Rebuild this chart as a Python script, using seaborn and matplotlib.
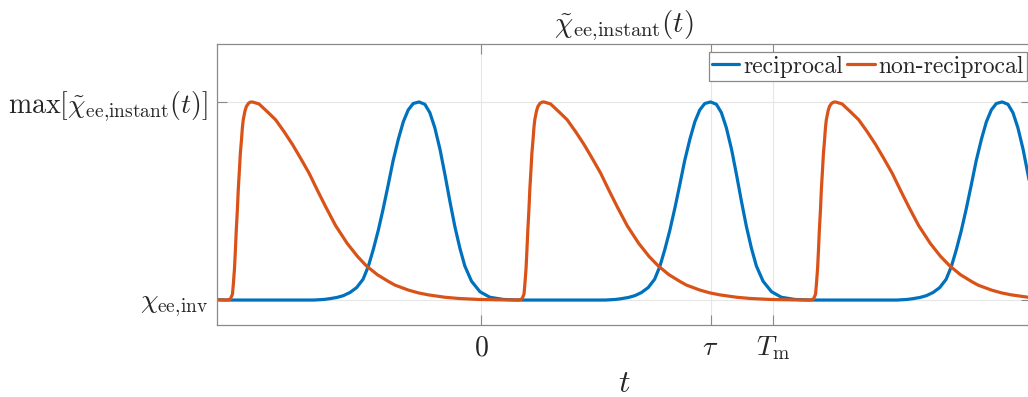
import matplotlib
matplotlib.use("Agg")
import matplotlib.pyplot as plt
import pandas as pd
import seaborn as sns

# time in units of the modulation period T_m; susceptibility normalised so that
# 0 -> chi_ee,inv and 1 -> max[chi_ee,instant(t)]
tau = 0.786
T_m = 1.0

t_recip = [
    -0.906, -0.871,
    -0.575, -0.540, -0.520, -0.496, -0.474, -0.451, -0.428, -0.406, -0.388, -0.371,
    -0.354, -0.337, -0.320, -0.303, -0.285, -0.268, -0.251, -0.234, -0.214, -0.194,
    -0.177, -0.160, -0.142, -0.125, -0.108, -0.091, -0.074, -0.057, -0.034, -0.005,
    0.029, 0.075, 0.129,
    0.425, 0.460, 0.480, 0.504, 0.526, 0.549, 0.572, 0.594, 0.612, 0.629,
    0.646, 0.663, 0.680, 0.697, 0.715, 0.732, 0.749, 0.766, 0.786, 0.806,
    0.823, 0.840, 0.858, 0.875, 0.892, 0.909, 0.926, 0.943, 0.966, 0.995,
    1.029, 1.075, 1.129,
    1.425, 1.460, 1.480, 1.504, 1.526, 1.549, 1.572, 1.594, 1.612, 1.629,
    1.646, 1.663, 1.680, 1.697, 1.715, 1.732, 1.749, 1.766, 1.786, 1.806,
    1.823, 1.840, 1.858, 1.875, 1.892,
]
chi_recip = [
    0.002, 0.000,
    0.000, 0.003, 0.007, 0.013, 0.022, 0.038, 0.063, 0.105, 0.170, 0.255,
    0.351, 0.461, 0.580, 0.703, 0.812, 0.900, 0.960, 0.992, 1.000, 0.988,
    0.946, 0.870, 0.760, 0.632, 0.497, 0.370, 0.262, 0.172, 0.095, 0.042,
    0.014, 0.003, 0.000,
    0.000, 0.003, 0.007, 0.013, 0.022, 0.038, 0.063, 0.105, 0.170, 0.255,
    0.351, 0.461, 0.580, 0.703, 0.812, 0.900, 0.960, 0.992, 1.000, 0.988,
    0.946, 0.870, 0.760, 0.632, 0.497, 0.370, 0.262, 0.172, 0.095, 0.042,
    0.014, 0.003, 0.000,
    0.000, 0.003, 0.007, 0.013, 0.022, 0.038, 0.063, 0.105, 0.170, 0.255,
    0.351, 0.461, 0.580, 0.703, 0.812, 0.900, 0.960, 0.992, 1.000, 0.988,
    0.946, 0.870, 0.760, 0.632, 0.497,
]

t_nonrecip = [
    -0.906,
    -0.875, -0.861, -0.854, -0.851, -0.847, -0.844, -0.841, -0.837, -0.834, -0.830,
    -0.827, -0.823, -0.820, -0.817, -0.811, -0.806, -0.799, -0.793, -0.786, -0.763,
    -0.734, -0.706, -0.677, -0.648, -0.620, -0.591, -0.563, -0.534, -0.500, -0.460,
    -0.425, -0.395, -0.357, -0.317, -0.296, -0.250, -0.216, -0.182, -0.125, -0.079,
    -0.010, 0.058,
    0.125, 0.139, 0.146, 0.149, 0.153, 0.156, 0.159, 0.163, 0.166, 0.170,
    0.173, 0.177, 0.180, 0.183, 0.189, 0.194, 0.201, 0.208, 0.214, 0.237,
    0.266, 0.294, 0.323, 0.352, 0.380, 0.409, 0.437, 0.466, 0.500, 0.540,
    0.575, 0.606, 0.643, 0.683, 0.704, 0.750, 0.784, 0.818, 0.876, 0.921,
    0.990, 1.058,
    1.125, 1.139, 1.146, 1.149, 1.153, 1.156, 1.159, 1.163, 1.166, 1.170,
    1.173, 1.177, 1.180, 1.183, 1.189, 1.194, 1.201, 1.208, 1.214, 1.237,
    1.266, 1.294, 1.323, 1.352, 1.380, 1.409, 1.437, 1.466, 1.500, 1.540,
    1.575, 1.606, 1.643, 1.683, 1.704, 1.750, 1.784, 1.818, 1.876, 1.921,
]
chi_nonrecip = [
    0.001,
    0.000, 0.005, 0.030, 0.080, 0.160, 0.250, 0.350, 0.460, 0.560, 0.660,
    0.740, 0.810, 0.870, 0.910, 0.955, 0.978, 0.993, 0.999, 1.000, 0.990,
    0.950, 0.910, 0.850, 0.785, 0.715, 0.640, 0.555, 0.470, 0.375, 0.285,
    0.220, 0.173, 0.128, 0.092, 0.075, 0.050, 0.036, 0.026, 0.014, 0.008,
    0.003, 0.001,
    0.000, 0.005, 0.030, 0.080, 0.160, 0.250, 0.350, 0.460, 0.560, 0.660,
    0.740, 0.810, 0.870, 0.910, 0.955, 0.978, 0.993, 0.999, 1.000, 0.990,
    0.950, 0.910, 0.850, 0.785, 0.715, 0.640, 0.555, 0.470, 0.375, 0.285,
    0.220, 0.173, 0.128, 0.092, 0.075, 0.050, 0.036, 0.026, 0.014, 0.008,
    0.003, 0.001,
    0.000, 0.005, 0.030, 0.080, 0.160, 0.250, 0.350, 0.460, 0.560, 0.660,
    0.740, 0.810, 0.870, 0.910, 0.955, 0.978, 0.993, 0.999, 1.000, 0.990,
    0.950, 0.910, 0.850, 0.785, 0.715, 0.640, 0.555, 0.470, 0.375, 0.285,
    0.220, 0.173, 0.128, 0.092, 0.075, 0.050, 0.036, 0.026, 0.014, 0.008,
]

series_names = ["reciprocal", "non-reciprocal"]
series_colors = ["#0072BD", "#D95319"]

x_ticks = [0.0, tau, T_m]
x_ticklabels = [r"$0$", r"$\tau$", r"$T_{\mathrm{m}}$"]
y_ticks = [0.0, 1.0]
y_ticklabels = [r"$\chi_{\mathrm{ee{,}inv}}$",
                r"$\max[\tilde{\chi}_{\mathrm{ee{,}instant}}(t)]$"]
title_text = r"$\tilde{\chi}_{\mathrm{ee{,}instant}}(t)$"
xlabel_text = r"$t$"

df = pd.concat([
    pd.DataFrame({"t": t_recip, "chi": chi_recip, "case": series_names[0]}),
    pd.DataFrame({"t": t_nonrecip, "chi": chi_nonrecip, "case": series_names[1]}),
], ignore_index=True)

sns.set_style("ticks")
plt.rcParams["mathtext.fontset"] = "cm"
plt.rcParams["font.family"] = ["cmr10", "DejaVu Sans"]
plt.rcParams["axes.unicode_minus"] = False

W, H = 1028, 397
fig = plt.figure(figsize=(W / 100, H / 100), dpi=100)
ax = fig.add_axes([217.3 / W, (H - 325) / H, (1031 - 217.3) / W, (325 - 43.5) / H])

sns.lineplot(data=df, x="t", y="chi", hue="case", hue_order=series_names,
             palette=series_colors, sort=False, estimator=None,
             linewidth=2.3, ax=ax, legend=False)

ax.set_xlim(-0.906, 1.885)
ax.set_ylim(-0.126, 1.295)

ax.set_xticks(x_ticks)
ax.set_xticklabels(x_ticklabels)
ax.set_yticks(y_ticks)
ax.set_yticklabels(y_ticklabels)

axis_gray = "#8a8a8a"
text_col = "#262626"
ax.tick_params(axis="both", direction="in", length=7, width=0.8,
               color=axis_gray, labelcolor=text_col, labelsize=20,
               top=True, right=True)
ax.tick_params(axis="x", pad=7)
ax.tick_params(axis="y", pad=7)
for s in ax.spines.values():
    s.set_color(axis_gray)
    s.set_linewidth(0.9)

ax.grid(True, color="#e6e6e6", linewidth=0.8)
ax.set_axisbelow(True)

ax.set_xlabel(xlabel_text, fontsize=23, color=text_col, labelpad=6)
ax.set_ylabel("")
ax.set_title(title_text, fontsize=21, color=text_col, pad=8)

handles = [plt.Line2D([], [], color=c, linewidth=2.3) for c in series_colors]
leg = ax.legend(handles, series_names, loc="upper right",
                bbox_to_anchor=(1027 / W, 1 - 52 / H), bbox_transform=fig.transFigure,
                ncol=2, frameon=True, fancybox=False, framealpha=1,
                edgecolor=axis_gray, borderaxespad=0, borderpad=0.15,
                handlelength=1.15, handletextpad=0.15, columnspacing=0.2,
                prop={"family": "cmr10", "size": 17})
leg.get_frame().set_linewidth(0.9)
for txt in leg.get_texts():
    txt.set_color(text_col)

fig.savefig("out.png", dpi=100)
